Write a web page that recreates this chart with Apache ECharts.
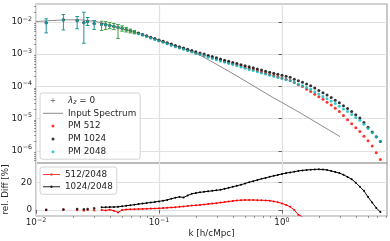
<!DOCTYPE html>
<html><head><meta charset="utf-8">
<script src="https://cdn.jsdelivr.net/npm/echarts@6/dist/echarts.min.js"></script>
<style>html,body{margin:0;padding:0;background:#fff}#c{width:390px;height:241px}</style>
</head><body><div id="c"></div><script>
// ---- data ----
const kAll = [0.0121, 0.0167, 0.0216, 0.0245, 0.0263, 0.0297,
  0.03415, 0.03687, 0.03981, 0.04299, 0.04642, 0.05012, 0.05412, 0.05843, 0.0631, 0.06813, 0.07356, 0.07943, 0.08577, 0.09261,
  0.1, 0.108, 0.1166, 0.1259, 0.1359, 0.1468, 0.1585, 0.1711, 0.1848, 0.1995,
  0.2154, 0.2326, 0.2512, 0.2712, 0.2929, 0.3162, 0.3415, 0.3687, 0.3981, 0.4299,
  0.4642, 0.5012, 0.5412, 0.5843, 0.631, 0.6813, 0.7356, 0.7943, 0.8577, 0.9261,
  1.0, 1.08, 1.166, 1.259, 1.359, 1.468, 1.585, 1.711, 1.848, 1.995,
  2.154, 2.326, 2.512, 2.712, 2.929, 3.162, 3.415, 3.687, 3.981, 4.299,
  4.642, 5.012, 5.412, 5.843, 6.31];
const pm512 = [9.45e-3, 1.16e-2, 1.10e-2, 9.5e-3, 1.03e-2, 8.9e-3,
  8.44e-3, 8.13e-3, 7.66e-3, 7.16e-3, 6.67e-3, 6.30e-3, 5.74e-3, 5.27e-3, 4.82e-3, 4.37e-3, 3.97e-3, 3.59e-3, 3.23e-3, 2.92e-3,
  2.64e-3, 2.38e-3, 2.16e-3, 1.94e-3, 1.75e-3, 1.60e-3, 1.47e-3, 1.33e-3, 1.21e-3, 1.10e-3,
  1.01e-3, 9.27e-4, 8.43e-4, 7.74e-4, 7.11e-4, 6.51e-4, 5.97e-4, 5.51e-4, 5.07e-4, 4.69e-4,
  4.28e-4, 3.94e-4, 3.62e-4, 3.34e-4, 3.06e-4, 2.81e-4, 2.58e-4, 2.36e-4, 2.17e-4, 2.00e-4,
  1.83e-4, 1.68e-4, 1.53e-4, 1.31e-4, 1.13e-4, 9.9e-5, 8.19e-5, 6.90e-5, 5.69e-5, 4.73e-5,
  3.96e-5, 3.22e-5, 2.64e-5, 2.10e-5, 1.65e-5, 1.24e-5, 9.18e-6, 6.86e-6, 5.15e-6, 3.96e-6,
  2.85e-6, 2.04e-6, 1.41e-6, 8.67e-7, 5.35e-7];
const pm1024 = [9.5e-3, 1.17e-2, 1.11e-2, 9.6e-3, 1.04e-2, 9.0e-3,
  8.61e-3, 8.31e-3, 7.80e-3, 7.36e-3, 6.95e-3, 6.47e-3, 5.90e-3, 5.42e-3, 4.98e-3, 4.53e-3, 4.13e-3, 3.74e-3, 3.38e-3, 3.06e-3,
  2.77e-3, 2.51e-3, 2.29e-3, 2.07e-3, 1.87e-3, 1.71e-3, 1.56e-3, 1.43e-3, 1.31e-3, 1.19e-3,
  1.10e-3, 1.01e-3, 9.18e-4, 8.43e-4, 7.74e-4, 7.10e-4, 6.52e-4, 6.03e-4, 5.57e-4, 5.15e-4,
  4.73e-4, 4.38e-4, 4.05e-4, 3.77e-4, 3.48e-4, 3.22e-4, 2.98e-4, 2.75e-4, 2.55e-4, 2.37e-4,
  2.21e-4, 2.06e-4, 1.91e-4, 1.68e-4, 1.50e-4, 1.34e-4, 1.19e-4, 1.05e-4, 8.85e-5, 7.52e-5,
  6.34e-5, 5.38e-5, 4.50e-5, 3.74e-5, 3.08e-5, 2.51e-5, 2.06e-5, 1.65e-5, 1.31e-5, 1.04e-5,
  7.57e-6, 5.42e-6, 3.85e-6, 2.74e-6, 1.94e-6];
const pm2048 = [9.45e-3, 1.16e-2, 1.10e-2, 9.55e-3, 1.03e-2, 8.9e-3,
  8.44e-3, 8.15e-3, 7.64e-3, 7.20e-3, 6.79e-3, 6.30e-3, 5.72e-3, 5.24e-3, 4.79e-3, 4.34e-3, 3.94e-3, 3.56e-3, 3.20e-3, 2.89e-3,
  2.61e-3, 2.35e-3, 2.13e-3, 1.91e-3, 1.72e-3, 1.56e-3, 1.43e-3, 1.29e-3, 1.17e-3, 1.06e-3,
  9.74e-4, 8.91e-4, 8.07e-4, 7.39e-4, 6.77e-4, 6.18e-4, 5.64e-4, 5.19e-4, 4.76e-4, 4.38e-4,
  3.99e-4, 3.67e-4, 3.37e-4, 3.11e-4, 2.85e-4, 2.62e-4, 2.41e-4, 2.21e-4, 2.04e-4, 1.89e-4,
  1.75e-4, 1.62e-4, 1.50e-4, 1.31e-4, 1.17e-4, 1.04e-4, 9.20e-5, 8.11e-5, 6.82e-5, 5.79e-5,
  4.89e-5, 4.16e-5, 3.50e-5, 2.93e-5, 2.43e-5, 2.00e-5, 1.66e-5, 1.35e-5, 1.09e-5, 8.89e-6,
  6.64e-6, 4.95e-6, 3.65e-6, 2.70e-6, 1.97e-6];
const diff512 = [0.0, 0.1, 0.0, -0.4, 0.2, -0.2,
  0.0, -0.3, 0.2, -0.5, -1.8, 0.0, 0.3, 0.5, 0.6, 0.7, 0.8, 0.9, 1.0, 1.1,
  1.2, 1.4, 1.6, 1.8, 2.0, 2.3, 2.6, 2.9, 3.2, 3.4,
  3.7, 4.0, 4.4, 4.7, 5.0, 5.4, 5.8, 6.2, 6.6, 7.0,
  7.2, 7.3, 7.3, 7.3, 7.2, 7.1, 7.0, 6.8, 6.3, 5.7,
  4.8, 3.7, 2.3, 0.0, -3.5, -5, -11, -15, -17, -18,
  -19, -23, -25, -28, -32, -38, -45, -49, -53, -55,
  -57, -59, -61, -68, -73];
const diff1024 = [0.2, 0.4, 0.8, 0.6, 0.8, 1.2,
  2.0, 2.0, 2.1, 2.2, 2.3, 2.7, 3.1, 3.5, 3.9, 4.3, 4.7, 5.1, 5.5, 5.9,
  6.3, 6.8, 7.4, 8.2, 9.0, 9.6, 9.2, 10.6, 11.9, 12.4,
  12.9, 13.3, 13.7, 14.0, 14.4, 14.8, 15.5, 16.2, 17.0, 17.7,
  18.5, 19.4, 20.3, 21.1, 22.0, 22.8, 23.5, 24.3, 25.0, 25.7,
  26.4, 27.0, 27.5, 28.0, 28.6, 29.0, 29.3, 29.5, 29.7, 29.8,
  29.6, 29.3, 28.6, 27.8, 27.0, 25.8, 24.2, 22.5, 20.0, 17.0,
  14.0, 9.5, 5.5, 1.5, -1.5];
const inputK = [0.01, 0.01324, 0.01754, 0.02323, 0.03076, 0.04074, 0.05395, 0.07145, 0.1, 0.14, 0.1963, 0.2852, 0.4559, 0.7981, 1.4, 2.965];
const inputP = [1.035e-2, 1.11e-2, 1.17e-2, 1.17e-2, 1.04e-2, 7.68e-3, 5.65e-3, 4.22e-3, 2.71e-3, 1.78e-3, 1.14e-3, 5.19e-4, 1.85e-4, 5.12e-5, 1.52e-5, 2.75e-6];
const errK = [0.0121, 0.0167, 0.0216, 0.0245, 0.0263, 0.0297, 0.03415, 0.03687, 0.03981, 0.04299, 0.04642, 0.05012, 0.05412, 0.05843, 0.0631];
const errLo = [4.6e-3, 5.7e-3, 6.2e-3, 2.2e-3, 7.8e-3, 5.9e-3, 5.5e-3, 5.9e-3, 6.2e-3, 5.8e-3, 3.1e-3, 5.2e-3, 4.9e-3, 4.6e-3, 4.3e-3];
const errHi = [1.26e-2, 1.71e-2, 1.48e-2, 2.01e-2, 1.38e-2, 1.11e-2, 1.06e-2, 1.03e-2, 9.6e-3, 9.0e-3, 8.4e-3, 7.6e-3, 6.8e-3, 6.0e-3, 5.4e-3];
const xTickK = [0.01, 0.1, 1];
const xMinorK = [0.02, 0.03, 0.04, 0.05, 0.06, 0.07, 0.08, 0.09, 0.2, 0.3, 0.4, 0.5, 0.6, 0.7, 0.8, 0.9, 2, 3, 4, 5, 6, 7];
const yTickP = [1e-6, 1e-5, 1e-4, 1e-3, 1e-2];
const yMinorP = [2e-7, 3e-7, 4e-7, 5e-7, 6e-7, 7e-7, 8e-7, 9e-7, 2e-6, 3e-6, 4e-6, 5e-6, 6e-6, 7e-6, 8e-6, 9e-6,
  2e-5, 3e-5, 4e-5, 5e-5, 6e-5, 7e-5, 8e-5, 9e-5, 2e-4, 3e-4, 4e-4, 5e-4, 6e-4, 7e-4, 8e-4, 9e-4,
  2e-3, 3e-3, 4e-3, 5e-3, 6e-3, 7e-3, 8e-3, 9e-3, 2e-2, 3e-2];
const diffTicks = [0, 20];

// ---- chart ----
const FF = 'DejaVu Sans';
const TXT = '#262626';
const L = Math.log10;
const pts = (ks, vs) => ks.map((k, i) => [L(k), L(vs[i])]);
const NS = 6; // sparse low-k points
const dpts = (arr, from, to) => kAll.slice(from, to).map((k, i) => [L(k), arr[i + from]]);
const X0 = -2, X1 = 0.854;
const powLabel = v => { const e = Math.round(v); return '{b|10}{s|' + (e < 0 ? '\u2212' + (-e) : e) + '}'; };
const supRich = {
  b: { fontSize: 8.8, fontFamily: FF, color: TXT },
  s: { fontSize: 6.3, fontFamily: FF, color: TXT, padding: [0, 0, 6, 0] }
};
const tickStyle = { color: '#444', width: 0.8 };
const gridLine = { show: true, lineStyle: { color: '#e1e1e1', width: 1.2 } };

const chart = echarts.init(document.getElementById('c'), null, { renderer: 'canvas' });
const BOX = ' M0,0 M20,10 ';
const BOX2 = ' M0,0 M17,10 ';
const dotIcon = 'path://' + BOX + 'M10,3.5 A1.5,1.5 0 1 1 10,6.5 A1.5,1.5 0 1 1 10,3.5 Z';
const plusIcon = 'path://' + BOX + 'M9.6,2.8 L10.4,2.8 L10.4,4.6 L12.2,4.6 L12.2,5.4 L10.4,5.4 L10.4,7.2 L9.6,7.2 L9.6,5.4 L7.8,5.4 L7.8,4.6 L9.6,4.6 Z';
const lineIcon = 'path://' + BOX + 'M0,4.5 L20,4.5 L20,5.5 L0,5.5 Z';
const lineDotIcon = 'path://' + BOX2 + 'M0,4.55 L17,4.55 L17,5.45 L0,5.45 Z M8.5,3.8 A1.2,1.2 0 1 1 8.5,6.2 A1.2,1.2 0 1 1 8.5,3.8 Z';

const legendText = {
  fontSize: 8.8, fontFamily: FF, color: TXT,
  rich: {
    n: { fontSize: 8.8, fontFamily: FF, color: TXT },
    i: { fontSize: 8.8, fontFamily: FF, color: TXT, fontStyle: 'italic' },
    sub: { fontSize: 6.2, fontFamily: FF, color: TXT, fontStyle: 'italic', padding: [4, 0, 0, 0] }
  }
};
const legendFmt = name => name === '\u03bb_z = 0' ? '{i|\u03bb}{sub|z}{n| = 0}' : '{n|' + name + '}';

const option = {
  animation: false,
  backgroundColor: '#ffffff',
  grid: [
    { left: 36, right: 3, top: 4, height: 159, show: true, borderColor: '#a3a3a3', borderWidth: 1.2, backgroundColor: 'transparent',
      containLabel: false, outerBoundsMode: 'none' },
    { left: 36, right: 3, top: 163, height: 53, show: true, borderColor: '#a3a3a3', borderWidth: 1.2, backgroundColor: 'transparent',
      containLabel: false, outerBoundsMode: 'none' }
  ],
  xAxis: [
    { gridIndex: 0, type: 'value', min: X0, max: X1, axisLine: { show: false },
      axisTick: { show: false, customValues: xTickK.map(L) }, axisLabel: { show: false }, splitLine: gridLine },
    { gridIndex: 1, type: 'value', min: X0, max: X1, position: 'bottom', axisLine: { show: false },
      axisTick: { show: true, length: 3.5, lineStyle: tickStyle, customValues: xTickK.map(L) },
      axisLabel: { show: true, customValues: xTickK.map(L), formatter: powLabel, rich: supRich, margin: 1, color: TXT },
      splitLine: gridLine,
      name: 'k [h/cMpc]', nameLocation: 'middle', nameGap: 13,
      nameTextStyle: { fontSize: 8.8, fontFamily: FF, color: TXT } },
    { gridIndex: 1, type: 'value', min: X0, max: X1, position: 'bottom', axisLine: { show: false },
      axisTick: { show: true, length: 2, lineStyle: { color: '#555', width: 0.6 }, customValues: xMinorK.map(L) },
      axisLabel: { show: false }, splitLine: { show: false } }
  ],
  yAxis: [
    { gridIndex: 0, type: 'value', min: -6.38, max: -1.44, axisLine: { show: false },
      axisTick: { show: true, length: 3.5, lineStyle: tickStyle, customValues: yTickP.map(L) },
      axisLabel: { show: true, customValues: yTickP.map(L), formatter: powLabel, rich: supRich, margin: 4, color: TXT },
      splitLine: gridLine,
      name: '{i|P}{n|(}{i|k}{n|)}', nameLocation: 'middle', nameGap: 23, nameRotate: 90,
      nameTextStyle: { fontSize: 8.8, fontFamily: FF, color: TXT,
        rich: { i: { fontSize: 8.8, fontFamily: FF, color: TXT, fontStyle: 'italic' }, n: { fontSize: 8.8, fontFamily: FF, color: TXT } } } },
    { gridIndex: 0, type: 'value', min: -6.38, max: -1.44, position: 'left', axisLine: { show: false },
      axisTick: { show: true, length: 2, lineStyle: { color: '#555', width: 0.6 }, customValues: yMinorP.map(L) },
      axisLabel: { show: false }, splitLine: { show: false } },
    { gridIndex: 1, type: 'value', min: -4.4, max: 34.4, axisLine: { show: false },
      axisTick: { show: true, length: 3.5, lineStyle: tickStyle, customValues: diffTicks },
      axisLabel: { show: true, customValues: diffTicks, fontSize: 8.8, fontFamily: FF, color: TXT, margin: 4 },
      splitLine: gridLine,
      name: 'rel. Diff [%]', nameLocation: 'middle', nameGap: 19.5, nameRotate: 90,
      nameTextStyle: { fontSize: 8.8, fontFamily: FF, color: TXT } }
  ],
  legend: [
    { left: 40, top: 93, orient: 'vertical', itemWidth: 20, itemHeight: 10, itemGap: 2.8,
      padding: [2.5, 4, 2.5, 3], backgroundColor: 'rgba(255,255,255,0.85)', borderColor: '#d2d2d2', borderWidth: 1, borderRadius: 2.5,
      selectedMode: false, textStyle: legendText, formatter: legendFmt,
      data: [
        { name: '\u03bb_z = 0', icon: plusIcon, itemStyle: { color: '#7f7f7f' } },
        { name: 'Input Spectrum', icon: lineIcon, itemStyle: { color: '#8c8c8c' } },
        { name: 'PM 512', icon: dotIcon, itemStyle: { color: '#ff0000' } },
        { name: 'PM 1024', icon: dotIcon, itemStyle: { color: '#000000' } },
        { name: 'PM 2048', icon: dotIcon, itemStyle: { color: '#00bfbf' } }
      ] },
    { left: 40, top: 167, orient: 'vertical', itemWidth: 17, itemHeight: 10, itemGap: 2.3,
      padding: [2.5, 4, 2.5, 3], backgroundColor: 'rgba(255,255,255,0.85)', borderColor: '#d2d2d2', borderWidth: 1, borderRadius: 2.5,
      selectedMode: false, textStyle: legendText, formatter: legendFmt,
      data: [
        { name: '512/2048', icon: lineDotIcon, itemStyle: { color: '#ff4040' } },
        { name: '1024/2048', icon: lineDotIcon, itemStyle: { color: '#222222' } }
      ] }
  ],
  series: [
    { name: 'Input Spectrum', type: 'line', xAxisIndex: 0, yAxisIndex: 0, data: pts(inputK, inputP),
      symbol: 'none', showSymbol: false, lineStyle: { color: '#8c8c8c', width: 1 }, itemStyle: { color: '#8c8c8c' }, z: 2 },
    { name: 'PM 512', type: 'scatter', xAxisIndex: 0, yAxisIndex: 0, data: pts(kAll, pm512), symbolSize: 3,
      itemStyle: { color: '#ff0000' }, z: 3 },
    { name: 'PM 1024', type: 'scatter', xAxisIndex: 0, yAxisIndex: 0, data: pts(kAll, pm1024), symbolSize: 3,
      itemStyle: { color: '#000000' }, z: 3 },
    { name: 'PM 2048', type: 'scatter', xAxisIndex: 0, yAxisIndex: 0, data: pts(kAll, pm2048), symbolSize: 3,
      itemStyle: { color: '#00bfbf' }, z: 3 },
    { name: '\u03bb_z = 0', type: 'custom', xAxisIndex: 0, yAxisIndex: 0, z: 5, clip: true,
      itemStyle: { color: '#7f7f7f' },
      encode: { x: 0, y: [1, 2] },
      data: errK.map((k, i) => [L(k), L(errLo[i]), L(errHi[i])]),
      renderItem: (params, api) => {
        const x = api.value(0);
        const a = api.coord([x, api.value(1)]);
        const b = api.coord([x, api.value(2)]);
        const c = params.dataIndex < NS ? '#1b9494' : '#3f9f45';
        const hw = 1.8;
        const st = { stroke: c, lineWidth: 1 };
        return { type: 'group', children: [
          { type: 'line', shape: { x1: a[0], y1: a[1], x2: b[0], y2: b[1] }, style: st },
          { type: 'line', shape: { x1: a[0] - hw, y1: a[1], x2: a[0] + hw, y2: a[1] }, style: st },
          { type: 'line', shape: { x1: b[0] - hw, y1: b[1], x2: b[0] + hw, y2: b[1] }, style: st }
        ] };
      } },
    { name: '512/2048', type: 'line', xAxisIndex: 1, yAxisIndex: 2, data: dpts(diff512, NS, kAll.length),
      symbol: 'circle', symbolSize: 2, showSymbol: true, showAllSymbol: true, clip: true,
      lineStyle: { color: '#ff0000', width: 1 }, itemStyle: { color: '#ff0000' }, z: 3 },
    { name: '1024/2048', type: 'line', xAxisIndex: 1, yAxisIndex: 2, data: dpts(diff1024, NS, kAll.length),
      symbol: 'circle', symbolSize: 2, showSymbol: true, showAllSymbol: true, clip: true,
      lineStyle: { color: '#000000', width: 1 }, itemStyle: { color: '#000000' }, z: 3 },
    { name: 'sparse512', type: 'scatter', xAxisIndex: 1, yAxisIndex: 2, data: dpts(diff512, 0, NS), symbolSize: 2.5,
      itemStyle: { color: '#ff0000' }, z: 3 },
    { name: 'sparse1024', type: 'scatter', xAxisIndex: 1, yAxisIndex: 2, data: dpts(diff1024, 0, NS), symbolSize: 2.5,
      itemStyle: { color: '#000000' }, z: 3 }
  ]
};
chart.setOption(option);
</script></body></html>
